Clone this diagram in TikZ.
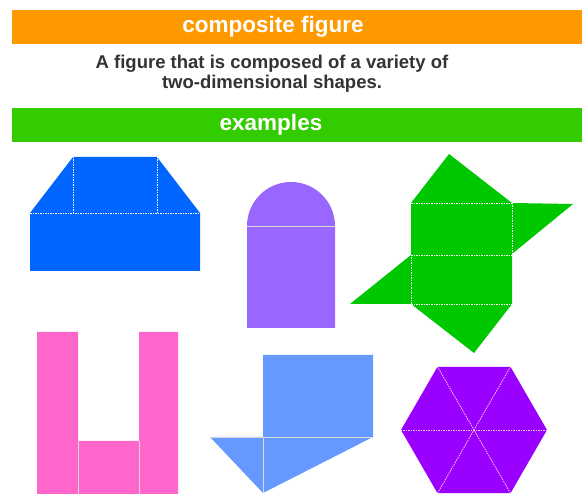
\documentclass[tikz,border=0pt]{standalone}
\usepackage{fontspec}
\setmainfont{Liberation Sans}
\usetikzlibrary{calc}
\definecolor{barorange}{HTML}{FF9900}
\definecolor{bargreen}{HTML}{33CC00}
\definecolor{subgray}{HTML}{333333}
\definecolor{shapeblue}{HTML}{0066FF}
\definecolor{shapelilac}{HTML}{9966FF}
\definecolor{shapegreen}{HTML}{00C800}
\definecolor{shapepink}{HTML}{FF66CC}
\definecolor{shapesky}{HTML}{6699FF}
\definecolor{shapeviolet}{HTML}{9900FF}
\tikzset{
  bar/.style={minimum width=570pt, minimum height=34pt, inner sep=0pt, anchor=north west},
  cutline/.style={white, line width=0.8pt, dash pattern=on 1.5pt off 1pt},
  seam/.style={white!85!black, line width=0.6pt}
}
\begin{document}
\begin{tikzpicture}[x=1pt, y=-1pt, every node/.style={font=\bfseries}]
  \useasboundingbox (0,0) rectangle (582,494);
  \fill[white] (0,0) rectangle (582,494);

  % headings
  \node[bar, fill=barorange] (titlebar) at (12,10) {};
  \node[text=white, font=\bfseries\fontsize{22.5}{26}\selectfont] (title) at (273,27) {composite figure};
  \node[text=subgray, align=center, font=\bfseries\fontsize{18.5}{20}\selectfont] (definition) at (272,74)
    {A figure that is composed of a variety of\\two-dimensional shapes.};
  \node[bar, fill=bargreen] (examplebar) at (12,108) {};
  \node[text=white, font=\bfseries\fontsize{22.5}{26}\selectfont] (examples) at (271,125) {examples};

  % trapezoid on a rectangle
  \fill[shapeblue] (73,157) -- (157,157) -- (200,213) -- (200,271) -- (30,271) -- (30,213) -- cycle;
  \draw[cutline] (30,213) -- (200,213);
  \draw[cutline] (73,157) -- (73,213);
  \draw[cutline] (157,157) -- (157,213);

  % half disc on a rectangle
  \fill[shapelilac] (247,328) -- (247,226) arc (180:360:44) -- (335,328) -- cycle;
  \draw[seam] (247,226) -- (335,226);

  % square with four triangles
  \fill[shapegreen] (411,203) -- (449,154) -- (512,203) -- (573,204) -- (512,254)
    -- (512,304) -- (474,353) -- (411,304) -- (350,304) -- (411,255) -- cycle;
  \foreach \yy in {203,255,304}
    \draw[cutline] (411,\yy) -- (512,\yy);
  \draw[cutline] (512,203) -- (512,254);
  \draw[cutline] (411,255) -- (411,304);

  % three rectangles
  \fill[shapepink] (37,332) -- (78,332) -- (78,441) -- (139,441) -- (139,332) -- (178,332)
    -- (178,494) -- (37,494) -- cycle;
  \draw[seam] (78,441) -- (78,494);
  \draw[seam] (139,441) -- (139,494);

  % rectangle over two triangles
  \fill[shapesky] (263,355) -- (373,355) -- (373,437) -- (263,493) -- (210,437) -- (263,437) -- cycle;
  \draw[seam] (210,437) -- (373,437);
  \draw[seam] (263,437) -- (263,493);

  % hexagon from six triangles
  \coordinate (H) at (474,430);
  \fill[shapeviolet] (547,430) \foreach \a in {60,120,...,300} { -- ($(H)+(\a:73)$) } -- cycle;
  \foreach \a in {0,60,120}
    \draw[cutline, white!80!magenta] ($(H)+(\a:73)$) -- ($(H)+(\a+180:73)$);
\end{tikzpicture}
\end{document}
